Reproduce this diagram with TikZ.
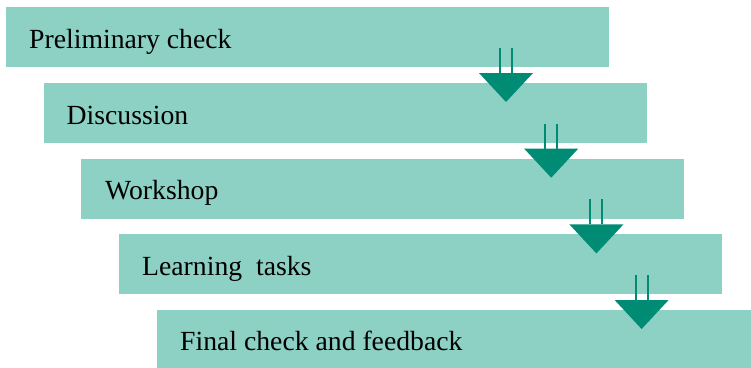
\documentclass[tikz,border=0pt]{standalone}
\usepackage{fontspec}
\setmainfont{Liberation Serif}
\definecolor{boxfill}{RGB}{141,208,196}
\definecolor{arrowc}{RGB}{0,140,116}
\begin{document}
\begin{tikzpicture}[x=1pt,y=-1pt,
  stepbox/.style={fill=boxfill, draw=none, minimum width=603pt, minimum height=60pt, inner sep=0pt, anchor=north west},
  steplabel/.style={anchor=base west, inner sep=0pt, font=\fontsize{27.7}{30}\selectfont},
  stem/.style={draw=arrowc, line width=2pt},
  tri/.style={fill=arrowc, draw=none}]
\useasboundingbox (0,0) rectangle (751,367);
\node[stepbox] (b1) at (6,7) {};
\node[stepbox] (b2) at (43.5,83) {};
\node[stepbox] (b3) at (81,158.5) {};
\node[stepbox] (b4) at (119,234) {};
\node[stepbox, minimum height=60pt] (b5) at (157,310) {};
\node[steplabel] (t1) at (29,48.5) {Preliminary check};
\node[steplabel] (t2) at (66.5,124) {Discussion};
\node[steplabel] (t3) at (105,199.5) {Workshop};
\node[steplabel] (t4) at (142,275) {Learning\ \ tasks};
\node[steplabel] (t5) at (180,350.5) {Final check and feedback};
\foreach \i/\cx/\ty in {1/506/73, 2/551.2/148.7, 3/596.4/224.4, 4/641.6/300} {
  \coordinate (a\i) at (\cx,\ty);
  \draw[stem] (a\i) ++(-6,-25) -- ++(0,25);
  \draw[stem] (a\i) ++(6,-25) -- ++(0,25);
  \fill[tri] (a\i) ++(-27,0) -- ++(54,0) -- ++(-27,29) -- cycle;
}
\end{tikzpicture}
\end{document}
